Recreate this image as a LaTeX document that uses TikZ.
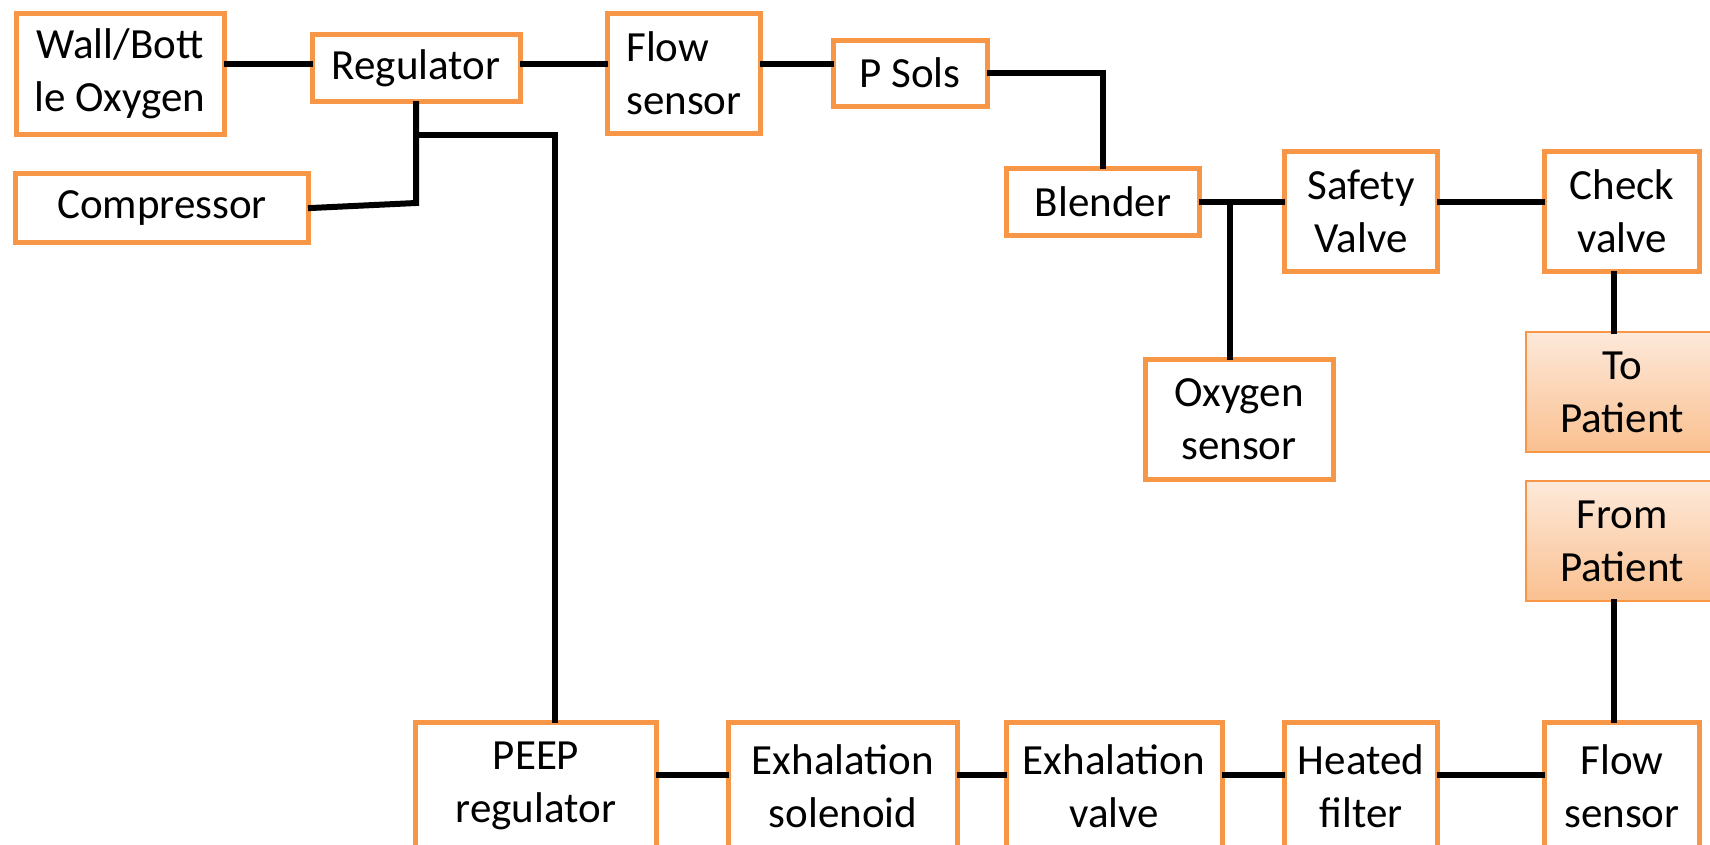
\documentclass[tikz,border=0pt]{standalone}
\usepackage{fontspec}
\setmainfont{Carlito}
\usepackage{tikz}
\definecolor{boxorange}{HTML}{F79646}
\definecolor{patienttop}{HTML}{FDE9DA}
\definecolor{patientbot}{HTML}{FAC090}
\begin{document}
\begin{tikzpicture}[line cap=rect,line join=miter,x=1pt,y=-1pt,
		box/.style={draw=boxorange,line width=5pt,fill=white,align=center,inner sep=0pt,font=\fontsize{43}{53}\selectfont},
		patient/.style={draw=boxorange,line width=2pt,top color=patienttop,bottom color=patientbot,align=center,inner sep=0pt,font=\fontsize{43}{53}\selectfont},
		pipe/.style={line width=6pt,black}]
		\clip(0,0) rectangle (1710,844);
		\fill[white] (0,0) rectangle (1710,844);
		% supply side
		\node[box,minimum width=208,minimum height=121] (wall) at (120,74) {Wall/Bott\\le Oxygen};
		\node[box,minimum width=293,minimum height=69] (comp) at (162,208) {Compressor};
		\node[box,minimum width=208,minimum height=67] (reg) at (416,68) {Regulator};
		\node[box,minimum width=153,minimum height=120,align=left] (flowa) at (684,73) {Flow\\sensor};
		\node[box,minimum width=154,minimum height=66] (psols) at (910,73) {P Sols};
		\node[box,minimum width=193,minimum height=67] (blender) at (1103,202) {Blender};
		\node[box,minimum width=153,minimum height=120] (safety) at (1361,211) {Safety\\Valve};
		\node[box,minimum width=155,minimum height=120] (check) at (1622,211) {Check\\valve};
		\node[box,minimum width=188,minimum height=120] (oxy) at (1239,419) {Oxygen\\sensor};
		% patient
		\node[patient,minimum width=192,minimum height=120] (topat) at (1622,392) {To\\Patient};
		\node[patient,minimum width=192,minimum height=120] (frompat) at (1622,541) {From\\Patient};
		% exhalation side
		\node[box,minimum width=241,minimum height=128] (peep) at (536,786) {PEEP\\regulator};
		\node[box,minimum width=229,minimum height=128] (exsol) at (843,786) {Exhalation\\solenoid};
		\node[box,minimum width=216,minimum height=128] (exval) at (1114,786) {Exhalation\\valve};
		\node[box,minimum width=153,minimum height=128] (heat) at (1361,786) {Heated\\filter};
		\node[box,minimum width=155,minimum height=128] (flowb) at (1622,786) {Flow\\sensor};
		% pipe levels
		\coordinate (hi) at (0,64);
		\coordinate (mix) at (0,202);
		\coordinate (lo) at (0,775);
		\coordinate (tee) at (1230,202);
		\coordinate (pat) at (1614,0);
		\coordinate (peepin) at (555,135);
		\draw[pipe] (wall.east |- hi) -- (reg.west |- hi);
		\draw[pipe] (reg.east |- hi) -- (flowa.west |- hi);
		\draw[pipe] (flowa.east |- hi) -- (psols.west |- hi);
		\draw[pipe] (psols.east) -- (psols.east -| blender.north) -- (blender.north);
		\draw[pipe] (reg.south) -- ([yshift=5pt]reg.south |- comp.east) -- (comp.east);
		\draw[pipe] (reg.south |- peepin) -- (peepin) -- (peepin |- peep.north);
		\draw[pipe] (blender.east |- mix) -- (safety.west |- mix);
		\draw[pipe] (tee) -- (tee |- oxy.north);
		\draw[pipe] (safety.east |- mix) -- (check.west |- mix);
		\draw[pipe] (check.south -| pat) -- (topat.north -| pat);
		\draw[pipe] (frompat.south -| pat) -- (flowb.north -| pat);
		\draw[pipe] (peep.east |- lo) -- (exsol.west |- lo);
		\draw[pipe] (exsol.east |- lo) -- (exval.west |- lo);
		\draw[pipe] (exval.east |- lo) -- (heat.west |- lo);
		\draw[pipe] (heat.east |- lo) -- (flowb.west |- lo);
\end{tikzpicture}
\end{document}
